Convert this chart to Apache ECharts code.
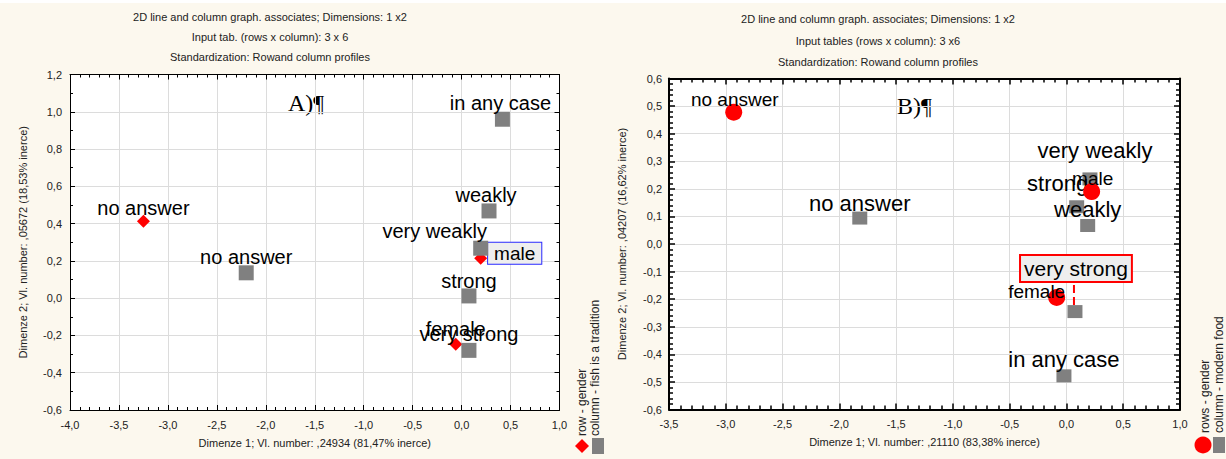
<!DOCTYPE html>
<html><head><meta charset="utf-8">
<script src="https://cdn.jsdelivr.net/npm/echarts@6/dist/echarts.min.js"></script>
<style>html,body{margin:0;padding:0;background:#fcf8ee;}#c{width:1226px;height:459px;}</style>
</head><body><div id="c"></div>
<script>
// ---------- Panel A (fish is a tradition) ----------
const aRowName = 'row - gender';
const aColName = 'column - fish is a tradition';
const aRowLabels = ['no answer', 'male', 'female'];
const aRowX = [-3.25, 0.195, -0.06];
const aRowY = [0.413, 0.214, -0.247];
const aColLabels = ['no answer', 'in any case', 'weakly', 'very weakly', 'strong', 'very strong'];
const aColX = [-2.2, 0.417, 0.28, 0.195, 0.075, 0.075];
const aColY = [0.136, 0.96, 0.468, 0.268, 0.012, -0.28];
const aXTicks = ['-4,0','-3,5','-3,0','-2,5','-2,0','-1,5','-1,0','-0,5','0,0','0,5','1,0'];
const aYTicks = ['-0,6','-0,4','-0,2','0,0','0,2','0,4','0,6','0,8','1,0','1,2'];
const aTitle = ['2D line and column graph. associates; Dimensions: 1 x2', 'Input tab. (rows x column): 3 x 6', 'Standardization: Rowand column profiles'];
const aXName = 'Dimenze 1; Vl. number: ,24934 (81,47% inerce)';
const aYName = 'Dimenze 2; Vl. number: ,05672 (18,53% inerce)';

// ---------- Panel B (modern food) ----------
const bRowName = 'rows - gender';
const bColName = 'column - modern food';
const bRowLabels = ['no answer', 'male', 'female'];
const bRowX = [-2.93, 0.222, -0.086];
const bRowY = [0.478, 0.19, -0.194];
const bColLabels = ['no answer', 'very weakly', 'strong', 'weakly', 'very strong', 'in any case'];
const bColX = [-1.82, 0.207, 0.09, 0.187, 0.075, -0.022];
const bColY = [0.094, 0.236, 0.135, 0.067, -0.245, -0.478];
const bXTicks = ['-3,5','-3,0','-2,5','-2,0','-1,5','-1,0','-0,5','0,0','0,5','1,0'];
const bYTicks = ['-0,6','-0,5','-0,4','-0,3','-0,2','-0,1','0,0','0,1','0,2','0,3','0,4','0,5','0,6'];
const bTitle = ['2D line and column graph. associates; Dimensions: 1 x2', 'Input tables (rows x column): 3 x6', 'Standardization: Rowand column profiles'];
const bXName = 'Dimenze 1; Vl. number: ,21110 (83,38% inerce)';
const bYName = 'Dimenze 2; Vl. number: ,04207 (16,62% inerce)';

// ---------- helpers ----------
const FONT = '"Liberation Sans", Arial, Helvetica, sans-serif';
const num = s => parseFloat(s.replace(',', '.'));
function axisRange(t) {
  const min = num(t[0]), max = num(t[t.length - 1]);
  const step = +(num(t[1]) - min).toFixed(6);
  return {min, max, step};
}
function fmt(t) {
  const r = axisRange(t);
  return v => t[Math.round((v - r.min) / r.step)] || '';
}
function makeAxes(kind, gridIndex, ticks, o) {
  const r = axisRange(ticks);
  const base = {
    type: 'value', gridIndex, min: r.min, max: r.max, interval: r.step,
    axisLine: {show: true, onZero: false, lineStyle: {color: '#000', width: o.lineWidth}},
    axisTick: {show: true, inside: true, length: o.tickLen, lineStyle: {color: '#000', width: o.tickWidth}},
    minorTick: {show: true, splitNumber: o.minorSplit, length: o.minorLen, lineStyle: {color: '#000', width: o.tickWidth}},
    minorSplitLine: {show: false}
  };
  const main = Object.assign({}, base, {
    position: kind === 'x' ? 'bottom' : 'left',
    name: o.name, nameLocation: 'middle', nameGap: o.nameGap,
    nameRotate: kind === 'y' ? 90 : 0,
    nameTextStyle: {fontSize: 11, color: '#222', fontFamily: FONT},
    axisLabel: {show: true, margin: o.labelMargin, fontSize: 11, color: '#222', fontFamily: FONT,
      formatter: fmt(ticks), showMinLabel: true, showMaxLabel: true},
    splitLine: {show: true, lineStyle: {color: '#dcdcdc', width: 1}}
  });
  const mirror = Object.assign({}, base, {
    position: kind === 'x' ? 'top' : 'right',
    axisLabel: {show: false}, splitLine: {show: false}
  });
  return [main, mirror];
}
function pts(xs, ys, names, extras) {
  return xs.map((x, i) => Object.assign({name: names[i], value: [x, ys[i]]}, extras[i] || {}));
}
const lbl = (offset, more) => ({label: Object.assign({offset}, more || {})});

// label placement (style only)
const aRowExtra = [lbl([0, -13]),
  lbl([34, -5], {backgroundColor: '#eeeeee', borderColor: '#2a2aff', borderWidth: 1, padding: [1, 6], fontSize: 19}),
  lbl([0, -15])];
const aColExtra = [lbl([0, -16]), lbl([-2, -16]), lbl([-3, -16]), lbl([-46, -17]), lbl([0, -15]), lbl([0, -16])];
const bRowExtra = [lbl([1, -13]), lbl([1, -13]), lbl([-20, -6])];
const bColExtra = [lbl([0, -15]), lbl([5, -28]), lbl([-19, -23]), lbl([0, -16]),
  Object.assign(lbl([1, -43], {backgroundColor: '#eeeeee', borderColor: '#ff0000', borderWidth: 2, padding: [2, 3], fontSize: 21}),
    {labelLine: {show: true, lineStyle: {color: '#ff0000', width: 2, type: 'dashed', opacity: 1}}}),
  lbl([0, -16])];

const labelBase = (size) => ({show: true, position: 'inside', formatter: '{b}', fontSize: size, color: '#000', opacity: 1, fontFamily: FONT});

const [ax0, ax1] = makeAxes('x', 0, aXTicks, {lineWidth: 1, tickLen: 5, tickWidth: 1, minorSplit: 5, minorLen: 3, name: aXName, nameGap: 27, labelMargin: 9});
const [ay0, ay1] = makeAxes('y', 0, aYTicks, {lineWidth: 1, tickLen: 5, tickWidth: 1, minorSplit: 2, minorLen: 3, name: aYName, nameGap: 42, labelMargin: 8});
const [bx0, bx1] = makeAxes('x', 1, bXTicks, {lineWidth: 2, tickLen: 6, tickWidth: 1.5, minorSplit: 5, minorLen: 4, name: bXName, nameGap: 27, labelMargin: 9});
const [by0, by1] = makeAxes('y', 1, bYTicks, {lineWidth: 2, tickLen: 6, tickWidth: 1.5, minorSplit: 5, minorLen: 4, name: bYName, nameGap: 42, labelMargin: 7});

const titleStyle = lh => ({fontSize: 11, fontWeight: 'normal', color: '#222', fontFamily: FONT, lineHeight: lh});
const itemStyle = c => ({color: c, opacity: 1});
const noEmph = {disabled: true};

const option = {
  animation: false,
  backgroundColor: '#fcf8ee',
  title: [
    {text: aTitle.join('\n'), left: 270, top: 6.5, textAlign: 'center', padding: 0, textStyle: titleStyle(20)},
    {text: bTitle.join('\n'), left: 878, top: 8.5, textAlign: 'center', padding: 0, textStyle: titleStyle(21.5)}
  ],
  grid: [
    {left: 70, top: 74.5, width: 489.5, height: 335.5, backgroundColor: '#ffffff', show: true, borderWidth: 0, containLabel: false, outerBoundsMode: 'none'},
    {left: 669, top: 78.5, width: 511, height: 331, backgroundColor: '#ffffff', show: true, borderWidth: 0, containLabel: false, outerBoundsMode: 'none'}
  ],
  xAxis: [ax0, ax1, bx0, bx1],
  yAxis: [ay0, ay1, by0, by1],
  series: [
    {name: aRowName, type: 'scatter', xAxisIndex: 0, yAxisIndex: 0, z: 2, symbol: 'diamond', symbolSize: 13, emphasis: noEmph,
      itemStyle: itemStyle('#ff0000'), label: labelBase(20), data: pts(aRowX, aRowY, aRowLabels, aRowExtra)},
    {name: aColName, type: 'scatter', xAxisIndex: 0, yAxisIndex: 0, z: 3, symbol: 'rect', symbolSize: 15, emphasis: noEmph,
      itemStyle: itemStyle('#808080'), label: labelBase(20), data: pts(aColX, aColY, aColLabels, aColExtra)},
    {name: bColName, type: 'scatter', xAxisIndex: 2, yAxisIndex: 2, z: 2, symbol: 'rect', symbolSize: [15, 13], emphasis: noEmph,
      itemStyle: itemStyle('#808080'), label: labelBase(22), data: pts(bColX, bColY, bColLabels, bColExtra)},
    {name: bRowName, type: 'scatter', xAxisIndex: 2, yAxisIndex: 2, z: 3, symbol: 'circle', symbolSize: 17, emphasis: noEmph,
      itemStyle: itemStyle('#ff0000'), label: labelBase(19), data: pts(bRowX, bRowY, bRowLabels, bRowExtra)}
  ],
  graphic: [
    {type: 'rect', shape: {x: 0, y: 0, width: 1226, height: 3}, style: {fill: '#ffffff'}, silent: true},
    {type: 'text', x: 288, y: 103, style: {text: 'A)¶', font: '24px "Liberation Serif", "Times New Roman", serif', fill: '#000', verticalAlign: 'middle', align: 'left'}},
    {type: 'text', x: 897, y: 106, style: {text: 'B)¶', font: '24px "Liberation Serif", "Times New Roman", serif', fill: '#000', verticalAlign: 'middle', align: 'left'}},
    // legend A
    {type: 'text', x: 582, y: 436, rotation: Math.PI / 2, style: {text: aRowName, font: '12px ' + FONT, fill: '#222', align: 'left', verticalAlign: 'middle'}},
    {type: 'text', x: 595, y: 436, rotation: Math.PI / 2, style: {text: aColName, font: '12px ' + FONT, fill: '#222', align: 'left', verticalAlign: 'middle'}},
    {type: 'polygon', shape: {points: [[575, 446], [582, 439], [589, 446], [582, 453]]}, style: {fill: '#ff0000'}},
    {type: 'rect', shape: {x: 592, y: 438, width: 12, height: 16}, style: {fill: '#808080'}},
    // legend B
    {type: 'text', x: 1205, y: 433, rotation: Math.PI / 2, style: {text: bRowName, font: '12px ' + FONT, fill: '#222', align: 'left', verticalAlign: 'middle'}},
    {type: 'text', x: 1219, y: 433, rotation: Math.PI / 2, style: {text: bColName, font: '12px ' + FONT, fill: '#222', align: 'left', verticalAlign: 'middle'}},
    {type: 'circle', shape: {cx: 1203, cy: 445, r: 8.5}, style: {fill: '#ff0000'}},
    {type: 'rect', shape: {x: 1213, y: 437, width: 12, height: 16}, style: {fill: '#808080'}}
  ]
};
const chart = echarts.init(document.getElementById('c'), null, {renderer: 'svg'});
chart.setOption(option);
</script></body></html>
